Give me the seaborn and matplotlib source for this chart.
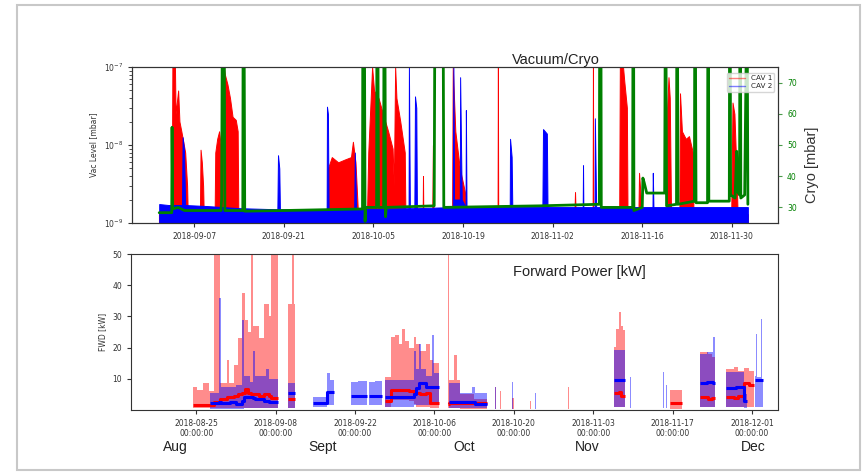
import numpy as np
import pandas as pd
import matplotlib
matplotlib.use('Agg')
import matplotlib.pyplot as plt
import matplotlib.dates as mdates
from matplotlib.lines import Line2D
from matplotlib.patches import Rectangle
import seaborn as sns

START = pd.Timestamp('2018-09-01')

# ---- vacuum level [mbar], days after 2018-09-01 ----
cav1_vac_day = [0.5, 2.5, 2.6, 3.0, 3.1, 3.5, 3.7, 4.0, 4.3, 4.6, 4.9, 5.0,
                6.9, 7.0, 7.2, 7.4, 7.5,
                9.2, 9.3, 9.6, 9.9, 10.2, 10.4, 10.6, 10.8, 11.2, 11.6, 12.0, 12.5, 12.8, 12.9,
                26.8, 26.9, 27.5, 28.5, 29.5, 30.5, 30.8, 31.2, 31.6,
                33.0, 33.2, 33.8, 34.1, 34.8, 35.5, 36.3, 37.0, 37.2, 37.4, 37.6, 38.2, 38.9, 39.0,
                41.7, 41.75, 41.8, 43.2, 43.3, 43.4,
                46.3, 46.4, 46.8, 47.5, 48.3, 48.5,
                53.4, 53.45, 53.5, 65.4, 65.5, 65.6, 68.25, 68.3, 68.35,
                72.4, 72.5, 73.0, 73.2, 73.6, 73.7,
                75.4, 75.5, 75.7, 75.9,
                79.8, 79.9, 80.1, 80.3, 80.5,
                81.8, 81.9, 82.2, 82.8, 83.3, 83.9, 84.0,
                89.9, 90.1, 90.4, 90.7, 90.9, 92.5]
cav1_vac = [1.3e-9, 1.3e-9, 1e-7, 1e-7, 2.5e-8, 5e-8, 2e-8, 1.5e-8, 1.1e-8, 8e-9, 3e-9, 1.3e-9,
            1.3e-9, 8.7e-9, 6e-9, 3e-9, 1.3e-9,
            1.3e-9, 8e-9, 1.2e-8, 1.5e-8, 9e-9, 4e-9, 1e-7, 8e-8, 6e-8, 4e-8, 2.3e-8, 2.1e-8, 1.5e-8, 1.3e-9,
            1.3e-9, 5e-9, 7e-9, 6e-9, 6.5e-9, 7e-9, 1.1e-8, 6e-9, 1.3e-9,
            1.3e-9, 8e-9, 1e-7, 5e-8, 4e-8, 2.5e-8, 1.5e-8, 9e-9, 3e-9, 1e-7, 4e-8, 2e-8, 8e-9, 1.3e-9,
            1.3e-9, 4e-9, 1.3e-9, 1.3e-9, 1e-8, 1.3e-9,
            1.3e-9, 1e-7, 1.5e-8, 5e-9, 2.5e-9, 1.3e-9,
            1.3e-9, 1e-7, 1.3e-9, 1.3e-9, 2.5e-9, 1.3e-9, 1.3e-9, 1e-7, 1.3e-9,
            1.3e-9, 1e-7, 1e-7, 6.5e-8, 3e-8, 1.3e-9,
            1.3e-9, 4.4e-9, 2.5e-9, 1.3e-9,
            1.3e-9, 3e-8, 7.4e-8, 4e-8, 1.3e-9,
            1.3e-9, 4.6e-8, 1.5e-8, 1.2e-8, 1.3e-8, 8e-9, 1.3e-9,
            1.3e-9, 3.5e-8, 2.5e-8, 5e-9, 1.3e-9, 1.3e-9]

cav2_vac_day = [0.54, 2.0, 4.1, 4.2, 4.4, 4.6, 8.0, 13.0, 19.0, 19.1, 19.3, 19.4,
                26.7, 26.75, 26.9, 27.0, 31.0, 31.1, 31.3, 39.5, 39.55, 39.7,
                40.4, 40.5, 40.7, 40.8, 46.4, 46.5, 46.6, 47.5, 47.55, 47.8,
                48.4, 48.45, 48.55, 55.3, 55.35, 55.6, 55.7, 60.4, 60.5, 61.1, 61.2,
                66.7, 66.75, 66.8, 68.55, 68.6, 68.8, 77.6, 77.65, 77.75, 92.5]
cav2_vac = [1.75e-9, 1.7e-9, 1.7e-9, 1.26e-8, 9e-9, 1.7e-9, 1.65e-9, 1.55e-9, 1.5e-9, 7.4e-9, 5e-9, 1.5e-9,
            1.5e-9, 3.1e-8, 2.5e-8, 1.5e-9, 1.5e-9, 8e-9, 1.5e-9, 1.55e-9, 1e-7, 1.55e-9,
            1.55e-9, 4.2e-8, 3e-8, 1.55e-9, 1.6e-9, 1e-7, 2e-9, 2e-9, 7.4e-8, 2e-9,
            1.6e-9, 2.8e-8, 1.6e-9, 1.6e-9, 1.2e-8, 7e-9, 1.6e-9, 1.6e-9, 1.6e-8, 1.4e-8, 1.6e-9,
            1.6e-9, 5.5e-9, 1.6e-9, 1.6e-9, 2.2e-8, 1.6e-9, 1.6e-9, 4.4e-9, 1.6e-9, 1.6e-9]

# ---- cryo pressure [mbar] ----
cryo_day = [0.54, 2.5, 2.55, 2.65, 3.5, 4.5, 10.2, 10.3, 10.4, 10.7, 10.8,
            13.6, 13.65, 13.8, 13.9, 20.0, 32.3, 32.35, 32.6, 32.7, 32.8,
            34.5, 34.55, 34.7, 34.8, 35.6, 35.65, 35.8, 35.9, 36.0,
            43.5, 43.6, 44.9, 45.0, 60.0, 69.3, 69.35, 69.55, 69.6,
            74.5, 74.55, 74.65, 74.7, 76.0, 76.1, 76.3, 76.7,
            79.5, 79.6, 79.7, 79.8, 81.35, 81.4, 81.5, 81.6,
            84.15, 84.2, 84.3, 84.4, 86.2, 86.25, 86.35, 86.4,
            89.6, 89.65, 89.75, 89.8, 90.5, 90.75, 90.9,
            91.2, 91.25, 91.35, 91.4, 92.0, 92.3, 92.4, 92.5]
cryo = [28.3, 28.3, 55.7, 29.5, 30.0, 29.0, 29.0, 33.0, 90, 90, 29.0,
        29.0, 90, 90, 28.8, 29.0, 29.5, 90, 90, 25.5, 30.0,
        30.0, 90, 90, 30.0, 30.0, 90, 90, 27.0, 30.0,
        30.5, 90, 90, 30.0, 30.5, 31.0, 90, 90, 30.0,
        30.0, 90, 90, 29.0, 30.0, 39.4, 38.0, 34.6,
        34.6, 90, 90, 30.5, 31.0, 90, 90, 31.0,
        32.0, 90, 90, 31.5, 31.5, 90, 90, 32.0,
        32.0, 90, 90, 34.0, 33.0, 48.0, 35.0,
        34.0, 90, 90, 33.0, 34.0, 90, 90, 31.0]

# ---- forward power [kW]: min / mean / max ----
nan = np.nan
cav1_fwd_day = [-7.65, -6.88, -5.8, -4.83, -3.94, -2.77, -1.6, -1.2, -0.42, 0.29, 1.06, 1.64,
                2.1, 2.64, 3.0, 3.99, 4.87, 5.9, 6.17, 7.34,
                9.1, 9.9, 10.2, 10.46,
                26.33, 27.34, 28.1, 28.7, 29.28, 29.9, 30.6, 31.33, 31.7, 32.51, 33.5, 34.2, 34.8, 35.74,
                37.4, 37.6, 38.5, 38.9, 39.56, 41.9, 44.27,
                45.6, 45.9, 46.5, 46.8, 48.7, 49.0, 51.8, 52.0, 58.55, 58.8,
                66.6, 67.0, 67.5, 67.9, 68.25, 68.66,
                76.6, 78.66,
                81.77, 83.2, 84.0, 84.53,
                86.47, 87.8, 88.6, 89.53, 90.5, 91.29]
cav1_fwd_lo = [0.5, 0.5, 0.5, 0.5, 0.5, 0.5, 0.5, 0.5, 0.5, 0.8, 0.8, 0.8,
               0.8, 0.8, 0.8, 0.8, 0.8, 0.8, 0.8, 0,
               0.8, 0.8, 0.8, 0,
               1.0, 3.2, 3.2, 3.2, 3.2, 3.2, 3.0, 2.0, 1.0, 1.0, 1.0, 0.5, 0.5, 0,
               0.5, 0.5, 0.5, 0.5, 0.3, 0.3, 0,
               0.3, 0, 0.3, 0, 0.3, 0, 0.3, 0, 0.3, 0,
               1, 1, 1, 1, 1, 0,
               0.3, 0,
               1, 1, 1, 0,
               1, 1, 1, 1, 1, 0]
cav1_fwd_mean = [1.6, 1.6, 1.6, 1.6, 2.5, 3.5, 4.3, 4.3, 4.5, 5.0, 5.5, 6.7,
                 5.5, 5.0, 5.0, 4.5, 5.0, 4.5, 4.0, nan,
                 3.5, 3.5, 3.5, nan,
                 3.0, 6.4, 6.4, 6.4, 6.4, 6.4, 6.0, 5.5, 5.5, 5.0, 5.5, 2.3, 2.3, nan,
                 2.0, 2.2, 2.2, 2.2, 2.1, 2.1, nan,
                 nan, nan, nan, nan, nan, nan, nan, nan, nan, nan,
                 5.3, 5.3, 5.8, 4.5, 4.5, nan,
                 2.1, nan,
                 4.3, 3.5, 3.8, nan,
                 4.3, 4.0, 4.5, 8.5, 8.0, nan]
cav1_fwd_hi = [7.5, 6.4, 8.5, 6.0, 50, 8.6, 16, 8.6, 14.5, 23, 37.5, 29,
               25, 50, 27, 23, 34, 30, 50, 0,
               34, 50, 34, 0,
               10.5, 23.5, 24, 21, 26, 22, 20, 23.4, 21, 19, 21, 16, 15, 0,
               50, 9.6, 17.6, 9.6, 5, 3.5, 0,
               7.5, 0, 6, 0, 4, 0, 3, 0, 7.5, 0,
               20.3, 26, 31.5, 27, 25.6, 0,
               6.4, 0,
               18.5, 18, 17, 0,
               13.3, 13.8, 12.5, 13.5, 12.5, 0]

cav2_fwd_day = [-4.65, -3.06, -2.6, -1.0, 0.0, 1.06, 1.35, 2.5, 3.0, 3.3, 4.87, 5.3, 5.8, 7.34,
                9.1, 10.46,
                13.58, 16.05, 16.6, 17.22,
                20.28, 21.5, 23.11, 23.4, 24.6, 25.75,
                26.33, 31.33, 31.7, 32.3, 32.7, 33.5, 34.57, 34.9, 35.74,
                37.5, 39.56, 41.7, 42.1, 44.27,
                45.6, 45.9, 48.6, 48.9, 52.7, 52.9,
                66.6, 68.66, 69.45, 69.65, 75.35, 75.55, 75.85, 76.0,
                81.77, 83.0, 84.1, 84.4,
                86.47, 88.2, 89.53, 90.2,
                91.6, 91.71, 91.85, 92.55, 92.75, 92.94]
cav2_fwd_lo = [0.3, 0.3, 0.3, 0.3, 0.3, 0.3, 0.5, 0.5, 0.5, 0.5, 0.5, 0.5, 0.5, 0,
               0.5, 0,
               1.1, 1.6, 1.6, 0,
               1.6, 1.6, 0, 1.6, 1.6, 0,
               1.0, 1.5, 1.5, 1.5, 1.5, 1.5, 1.5, 1.5, 0,
               0.5, 0.5, 0.5, 0.5, 0,
               0.3, 0, 0.3, 0, 0.3, 0,
               1, 0, 0.5, 0, 0.5, 0, 0.5, 0,
               1, 1, 1, 0,
               1, 1, 0.5, 0,
               1, 1, 1, 1, 1, 0]
cav2_fwd_mean = [2.2, 2.5, 2.2, 2.5, 2.0, 3.0, 4.3, 4.3, 4.0, 3.5, 3.0, 3.0, 2.5, nan,
                 5.4, nan,
                 2.3, 5.9, 5.9, nan,
                 4.5, 4.5, nan, 4.5, 4.5, nan,
                 4.3, 5.0, 7.0, 8.5, 8.5, 7.5, 7.5, 7.5, nan,
                 2.5, 2.5, 2.5, 2.0, nan,
                 nan, nan, nan, nan, nan, nan,
                 9.6, nan, nan, nan, nan, nan, nan, nan,
                 8.5, 9.0, 8.5, nan,
                 6.9, 7.5, 3.0, nan,
                 9.6, 9.6, 9.6, 9.6, 9.6, nan]
cav2_fwd_hi = [5.3, 36, 7.5, 7.5, 8, 29, 11, 9, 19, 11, 11, 13, 10, 0,
               8.6, 0,
               4.3, 11.7, 9.6, 0,
               9.1, 9.4, 0, 9.1, 9.4, 0,
               9.6, 19, 13, 21, 13, 11, 24, 12, 0,
               8.5, 5.5, 7.5, 5.5, 0,
               7.5, 0, 9.1, 0, 5.3, 0,
               19.2, 0, 10.7, 0, 12.3, 0, 8, 0,
               18.1, 18.5, 23.5, 0,
               12.3, 12.3, 5, 0,
               11, 24.2, 10.5, 29.3, 10, 0]

vac_ticks = pd.date_range('2018-09-07', '2018-11-30', freq='14D')
fwd_ticks = pd.date_range('2018-08-25', '2018-12-01', freq='14D')
months = ['Aug', 'Sept', 'Oct', 'Nov', 'Dec']
month_x = [175, 323, 464, 587, 753]


def to_time(days):
    return START + pd.to_timedelta(np.asarray(days, dtype=float), unit='D')


sns.set_style('ticks')
plt.rcParams['font.family'] = ['DejaVu Sans']
plt.rcParams['xtick.labelsize'] = 5.5
plt.rcParams['ytick.labelsize'] = 5.5
plt.rcParams['axes.edgecolor'] = '#333333'
plt.rcParams['xtick.color'] = '#333333'
plt.rcParams['ytick.color'] = '#333333'
plt.rcParams['xtick.major.size'] = 3
plt.rcParams['ytick.major.size'] = 3

W, H = 865, 472
fig = plt.figure(figsize=(W / 100, H / 100), dpi=100)
ax_vac = fig.add_axes([132 / W, 1 - 223 / H, 646 / W, 156 / H])
ax_fwd = fig.add_axes([131 / W, 1 - 410 / H, 647 / W, 156 / H])

# --- top: vacuum and cryo ---
ax_vac.fill_between(to_time(cav1_vac_day), 1e-9, cav1_vac, color='red', lw=0.7)
ax_vac.fill_between(to_time(cav2_vac_day), 1e-9, cav2_vac, color='blue', lw=0.7)
ax_vac.set_yscale('log')
ax_vac.set_ylim(1e-9, 1e-7)
ax_vac.set_xlim(pd.Timestamp('2018-08-28 07:00'), pd.Timestamp('2018-12-07 05:00'))
ax_vac.set_xticks(vac_ticks)
ax_vac.xaxis.set_major_formatter(mdates.DateFormatter('%Y-%m-%d'))
ax_vac.set_ylabel('Vac Level [mbar]', fontsize=5.5, color='#333333')
ax_vac.yaxis.set_label_coords(-0.053, 0.5)

ax_cryo = ax_vac.twinx()
sns.lineplot(x=to_time(cryo_day), y=cryo, ax=ax_cryo, color='green', lw=2,
             estimator=None, sort=False)
ax_cryo.set_ylim(25, 75)
ax_cryo.set_yticks([30, 40, 50, 60, 70])
ax_cryo.tick_params(axis='y', colors='#4a9a4a', labelcolor='green', labelsize=5.5)
ax_cryo.set_ylabel('Cryo [mbar]', fontsize=10.5, color='#333333', family='Liberation Sans')
ax_cryo.yaxis.set_label_coords(1.042, 0.37)
for s in ax_cryo.spines.values():
    s.set_color('#333333')

handles = [Line2D([], [], color='red', lw=1, alpha=0.5),
           Line2D([], [], color='blue', lw=1, alpha=0.5)]
ax_cryo.legend(handles, ['CAV 1', 'CAV 2'], loc='upper right', fontsize=5.2,
               bbox_to_anchor=(1.0, 0.985), handlelength=2.2, framealpha=0.8,
               borderpad=0.3, labelspacing=0.3)

# --- bottom: forward power ---
t1 = to_time(cav1_fwd_day)
t2 = to_time(cav2_fwd_day)
ax_fwd.fill_between(t1, cav1_fwd_lo, cav1_fwd_hi, step='post', color='red', alpha=0.45, lw=0)
ax_fwd.fill_between(t2, cav2_fwd_lo, cav2_fwd_hi, step='post', color='blue', alpha=0.45, lw=0)
ax_fwd.plot(t1, cav1_fwd_mean, drawstyle='steps-post', color='red', lw=2.2, solid_capstyle='butt')
ax_fwd.plot(t2, cav2_fwd_mean, drawstyle='steps-post', color='blue', lw=2.2, solid_capstyle='butt')
ax_fwd.set_ylim(0, 50)
ax_fwd.set_yticks([10, 20, 30, 40, 50])
ax_fwd.set_xlim(pd.Timestamp('2018-08-13 12:00'), pd.Timestamp('2018-12-05 14:00'))
ax_fwd.set_xticks(fwd_ticks)
ax_fwd.xaxis.set_major_formatter(mdates.DateFormatter('%Y-%m-%d\n%H:%M:%S'))
ax_fwd.set_ylabel('FWD [kW]', fontsize=5.5, color='#333333')
ax_fwd.yaxis.set_label_coords(-0.037, 0.5)

# --- texts ---
fig.text(556 / W, 1 - 60 / H, 'Vacuum/Cryo', ha='center', va='center',
         fontsize=10.5, family='Liberation Sans', color='#222222')
fig.text(579 / W, 1 - 272 / H, 'Forward Power [kW]', ha='center', va='center',
         fontsize=10.5, family='Liberation Sans', color='#222222')
for m, x in zip(months, month_x):
    fig.text(x / W, 1 - 447 / H, m, ha='center', va='center',
             fontsize=10, family='Liberation Sans', color='#222222')

fig.patches.append(Rectangle((17 / W, 2 / H), 843 / W, 465 / H, transform=fig.transFigure,
                             fill=False, edgecolor='#c8c8c8', lw=1.5))

fig.savefig('out.png', dpi=100)
